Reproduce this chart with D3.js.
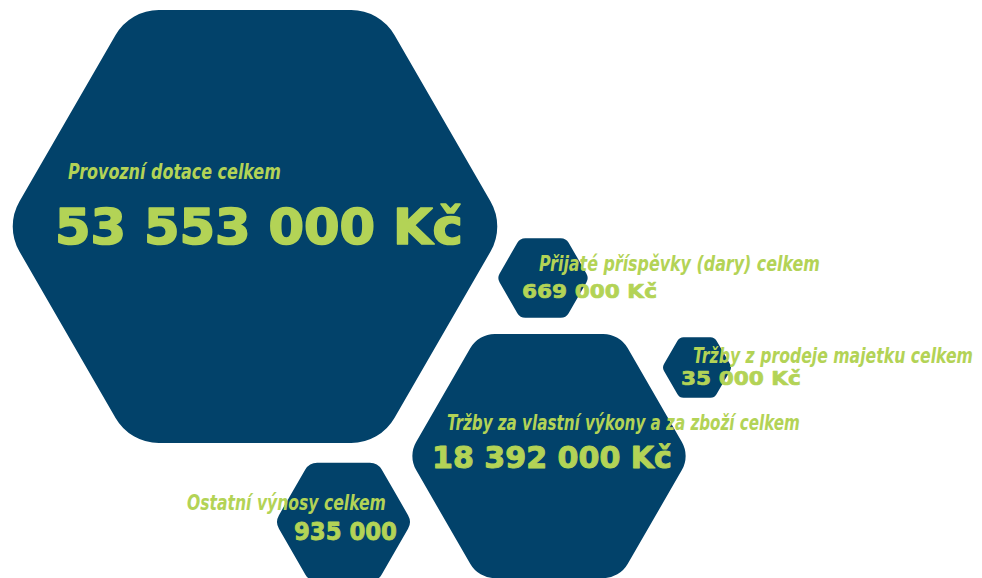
<!DOCTYPE html>
<html>
<head>
<meta charset="utf-8">
<script src="https://cdn.jsdelivr.net/npm/d3@7/dist/d3.min.js"></script>
<style>
  html, body { margin: 0; padding: 0; background: #ffffff; }
  svg { display: block; }
</style>
</head>
<body>
<svg id="chart" width="982" height="578"></svg>
<script>
// ---- data ----
const categories = [
  "Provozní dotace celkem",
  "Přijaté příspěvky (dary) celkem",
  "Tržby z prodeje majetku celkem",
  "Tržby za vlastní výkony a za zboží celkem",
  "Ostatní výnosy celkem"
];
const values = [53553000, 669000, 35000, 18392000, 935000];
const units = ["Kč", "Kč", "Kč", "Kč", ""];

// ---- layout (design, not data) ----
const hexLayout = [
  { cx: 255, cy: 226.5, r: 250 },
  { cx: 543, cy: 278,   r: 46 },
  { cx: 697, cy: 367.5, r: 35 },
  { cx: 549, cy: 456,   r: 141 },
  { cx: 343.5, cy: 522, r: 68.5 }
];
// label: x, baseline, width, size; value: x, baseline, width, size
const textLayout = [
  { lx: 68,  ly: 179, lw: 213, ls: 22, vx: 55,  vy: 244, vw: 408, vs: 50 },
  { lx: 539, ly: 271, lw: 281, ls: 21, vx: 522, vy: 298, vw: 135, vs: 20 },
  { lx: 693, ly: 363, lw: 280, ls: 21, vx: 681, vy: 385, vw: 120, vs: 19 },
  { lx: 447, ly: 430, lw: 353, ls: 21, vx: 432, vy: 468, vw: 240, vs: 30 },
  { lx: 187, ly: 510, lw: 199, ls: 22, vx: 294, vy: 540, vw: 103, vs: 24 }
];

const BLUE = "#02426a";
const GREEN = "#b3d356";

const locale = d3.formatLocale({ decimal: ",", thousands: " ", grouping: [3], currency: ["", " Kč"] });
const fmt = locale.format(",d");

const svg = d3.select("#chart");

function roundedHex(cx, cy, R, rc) {
  const v = d3.range(6).map(i => {
    const a = Math.PI / 3 * i;
    return [cx + R * Math.cos(a), cy + R * Math.sin(a)];
  });
  const p = d3.path();
  const m = [(v[5][0] + v[0][0]) / 2, (v[5][1] + v[0][1]) / 2];
  p.moveTo(m[0], m[1]);
  for (let i = 0; i < 6; i++) {
    const a = v[i], b = v[(i + 1) % 6];
    p.arcTo(a[0], a[1], b[0], b[1], rc);
  }
  p.closePath();
  return p.toString();
}

const items = categories.map((c, i) => ({
  label: c,
  value: values[i],
  text: fmt(values[i]) + (units[i] ? " " + units[i] : ""),
  hex: hexLayout[i],
  t: textLayout[i]
}));

svg.append("g").selectAll("path")
  .data(items)
  .join("path")
  .attr("d", d => roundedHex(d.hex.cx, d.hex.cy, d.hex.r, d.hex.r * 0.2))
  .attr("fill", BLUE);

// fit text to a target width by horizontal scaling
function fitWidth(sel, xFn, yFn, wFn) {
  sel.each(function(d) {
    const natural = this.getComputedTextLength();
    const k = wFn(d) / natural;
    d3.select(this)
      .attr("x", 0).attr("y", 0)
      .attr("transform", `translate(${xFn(d)},${yFn(d)}) scale(${k},1)`);
  });
}

const tg = svg.append("g");
const labels = tg.selectAll("text.label")
  .data(items)
  .join("text")
  .attr("class", "label")
  .style("font-family", "'Liberation Sans Narrow', 'DejaVu Sans Condensed', sans-serif")
  .style("font-weight", "bold")
  .style("font-style", "italic")
  .style("font-size", d => d.t.ls + "px")
  .attr("fill", GREEN)
  .text(d => d.label);
fitWidth(labels, d => d.t.lx, d => d.t.ly, d => d.t.lw);

const nums = tg.selectAll("text.value")
  .data(items)
  .join("text")
  .attr("class", "value")
  .style("font-family", "'DejaVu Sans', 'Liberation Sans', sans-serif")
  .style("font-weight", "bold")
  .style("font-size", d => d.t.vs + "px")
  .attr("fill", GREEN)
  .attr("stroke", GREEN)
  .attr("stroke-width", d => d.t.vs * 0.035)
  .attr("stroke-linejoin", "round")
  .text(d => d.text);
fitWidth(nums, d => d.t.vx, d => d.t.vy, d => d.t.vw);
</script>
</body>
</html>
